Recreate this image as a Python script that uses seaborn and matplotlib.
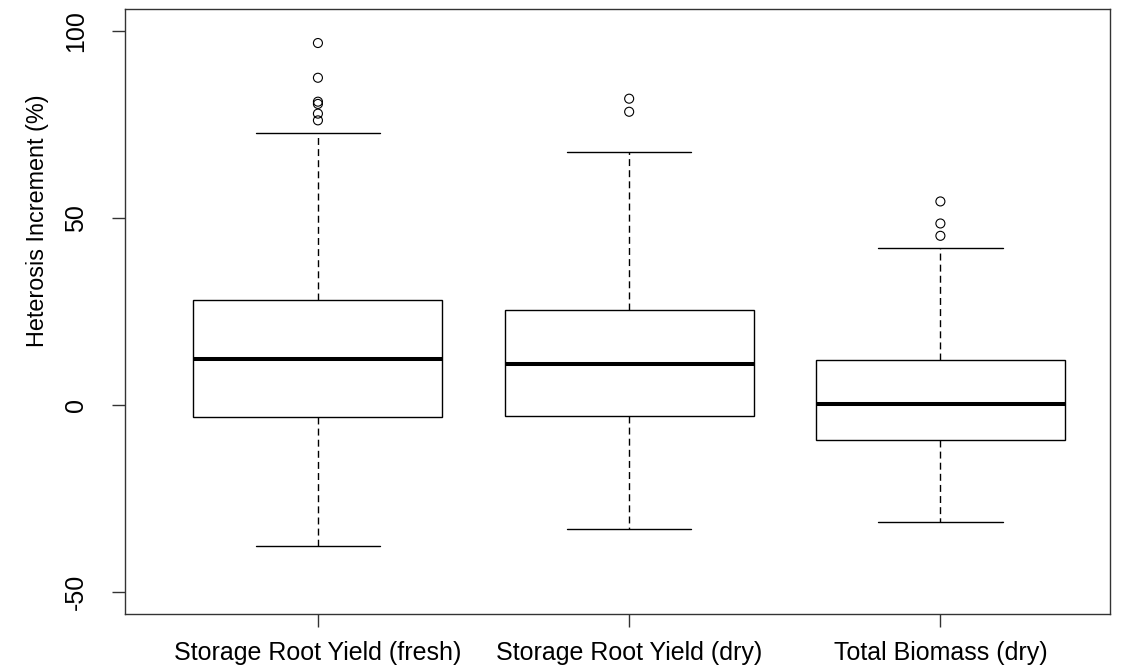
import matplotlib
matplotlib.use("Agg")
import matplotlib.pyplot as plt
import seaborn as sns
import pandas as pd

# Box summaries (percent heterosis increment) per trait
categories = ["Storage Root Yield (fresh)", "Storage Root Yield (dry)", "Total Biomass (dry)"]
whisker_low = [-37.8, -33.1, -31.2]
q1 = [-3.3, -3.0, -9.4]
median = [12.4, 11.0, 0.4]
q3 = [28.2, 25.5, 12.0]
whisker_high = [72.9, 67.7, 42.1]
outliers_fresh = [96.9, 87.6, 81.2, 80.6, 78.0, 76.2]
outliers_dry = [82.0, 78.5]
outliers_biomass = [54.5, 48.6, 45.3]
y_ticks = [-50, 0, 50, 100]

sns.set_style("white")
plt.rcParams["font.family"] = ["Liberation Sans", "DejaVu Sans"]
plt.rcParams["text.color"] = "black"
plt.rcParams["axes.labelcolor"] = "black"
plt.rcParams["xtick.color"] = "black"
plt.rcParams["ytick.color"] = "black"

positions = list(range(1, len(categories) + 1))
stats = [
    dict(label=c, whislo=lo, q1=a, med=m, q3=b, whishi=hi, fliers=[])
    for c, lo, a, m, b, hi in zip(categories, whisker_low, q1, median, q3, whisker_high)
]

fig = plt.figure(figsize=(11.21, 6.68), dpi=100)
ax = fig.add_axes([0.1112, 0.0804, 0.879, 0.9061])

ax.bxp(
    stats,
    positions=positions,
    widths=0.8,
    showfliers=False,
    patch_artist=True,
    boxprops=dict(facecolor="white", edgecolor="black", linewidth=1.0),
    medianprops=dict(color="black", linewidth=2.9, solid_capstyle="butt"),
    whiskerprops=dict(color="black", linewidth=1.0, linestyle=(0, (5, 3))),
    capprops=dict(color="black", linewidth=1.0),
)

flier_df = pd.DataFrame({
    "pos": [1] * len(outliers_fresh) + [2] * len(outliers_dry) + [3] * len(outliers_biomass),
    "value": outliers_fresh + outliers_dry + outliers_biomass,
})
sns.scatterplot(data=flier_df, x="pos", y="value", ax=ax, marker="o", s=42,
                facecolor="none", edgecolor="black", linewidth=0.8, zorder=5)

ax.set_xlim(0.379, 3.545)
ax.set_ylim(-56, 106)
ax.set_xticks(positions)
ax.set_xticklabels(categories, fontsize=18)
ax.set_yticks(y_ticks)
ax.set_yticklabels([str(t) for t in y_ticks], fontsize=18, rotation=90, va="center")
ax.set_xlabel("")
ax.set_ylabel("Heterosis Increment (%)", fontsize=16.8)
ax.yaxis.set_label_coords(-0.0765, 0.651)

ax.tick_params(axis="both", which="major", direction="out", length=9.4, width=1.0,
               color="#333333", labelcolor="black", left=True, bottom=True)
ax.tick_params(axis="x", pad=10)
ax.tick_params(axis="y", pad=17)
for s in ax.spines.values():
    s.set_visible(True)
    s.set_color("#333333")
    s.set_linewidth(1.0)

fig.savefig("out.png", dpi=100, facecolor="white")
